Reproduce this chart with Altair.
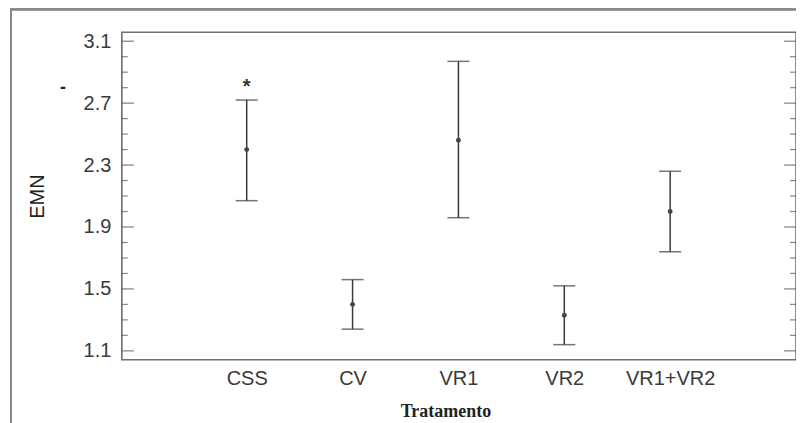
import altair as alt
import pandas as pd

categories = ["CSS", "CV", "VR1", "VR2", "VR1+VR2"]
means = [2.40, 1.40, 2.46, 1.33, 2.00]
upper = [2.72, 1.56, 2.97, 1.52, 2.26]
lower = [2.07, 1.24, 1.96, 1.14, 1.74]
sig_marks = ["*", "", "", "", ""]
sig_y = [2.83, None, None, None, None]

major_ticks = [1.1, 1.5, 1.9, 2.3, 2.7, 3.1]
minor_ticks = [1.2, 1.3, 1.4, 1.6, 1.7, 1.8, 2.0, 2.1, 2.2, 2.4, 2.5, 2.6, 2.8, 2.9, 3.0]

df = pd.DataFrame({"Tratamento": categories, "EMN": means, "hi": upper, "lo": lower,
                   "sig": sig_marks, "sig_y": sig_y})
df_major = pd.DataFrame({"v": major_ticks})
df_minor = pd.DataFrame({"v": minor_ticks})

W, H = 675, 328
FONT = "Liberation Sans"
LINE = "#3a3a3a"

yscale = alt.Scale(domain=[1.042, 3.158], nice=False, zero=False)
xscale = alt.Scale(type="point", range=[125, 549], padding=0)

xenc = alt.X("Tratamento:N", scale=xscale, sort=categories,
             axis=alt.Axis(title="Tratamento", labelAngle=0, ticks=False, domain=False,
                           labelFont=FONT, labelFontSize=20, labelColor="#3a3a3a",
                           labelPadding=9,
                           titleFont="Liberation Serif", titleFontWeight="bold",
                           titleFontSize=18, titleColor="#222",
                           titleX=324, titleY=52, titleAlign="center",
                           titleBaseline="middle"))

base = alt.Chart(df)

rules = base.mark_rule(color=LINE, strokeWidth=1.5).encode(
    x=xenc,
    y=alt.Y("lo:Q", scale=yscale,
            axis=alt.Axis(title="EMN", values=major_ticks, format=".1f", ticks=False,
                          domain=False, grid=False, labelFont=FONT, labelFontSize=20,
                          labelColor="#3a3a3a", labelPadding=11,
                          titleFont=FONT, titleFontSize=20, titleFontWeight="normal",
                          titleColor="#222", titleX=-84, titleY=164, titleAngle=270,
                          titleAlign="center", titleBaseline="middle")),
    y2="hi:Q")

caps_hi = base.mark_tick(color=LINE, size=22, thickness=1.5).encode(
    x=alt.X("Tratamento:N", scale=xscale, sort=categories), y=alt.Y("hi:Q", scale=yscale))
caps_lo = base.mark_tick(color=LINE, size=22, thickness=1.5).encode(
    x=alt.X("Tratamento:N", scale=xscale, sort=categories), y=alt.Y("lo:Q", scale=yscale))
pts = base.mark_circle(color="#444", size=24, opacity=1).encode(
    x=alt.X("Tratamento:N", scale=xscale, sort=categories), y=alt.Y("EMN:Q", scale=yscale))
stars = base.mark_text(font=FONT, fontSize=20, fontWeight="bold", color="#333",
                       baseline="middle", dy=4).encode(
    x=alt.X("Tratamento:N", scale=xscale, sort=categories),
    y=alt.Y("sig_y:Q", scale=yscale), text="sig:N")

tick_color = "#555"
maj_l = alt.Chart(df_major).mark_tick(color=tick_color, size=12, thickness=1.3).encode(
    x=alt.value(6), y=alt.Y("v:Q", scale=yscale))
maj_r = alt.Chart(df_major).mark_tick(color=tick_color, size=12, thickness=1.3).encode(
    x=alt.value(W - 6), y=alt.Y("v:Q", scale=yscale))
min_l = alt.Chart(df_minor).mark_tick(color=tick_color, size=6, thickness=1.2).encode(
    x=alt.value(3), y=alt.Y("v:Q", scale=yscale))
min_r = alt.Chart(df_minor).mark_tick(color=tick_color, size=6, thickness=1.2).encode(
    x=alt.value(W - 3), y=alt.Y("v:Q", scale=yscale))

frame_color = "#8a8a8a"
frame_left = alt.Chart(df_major).mark_rule(color=frame_color, strokeWidth=2).encode(
    x=alt.value(-111), y=alt.value(-23), y2=alt.value(400))
frame_top = alt.Chart(df_major).mark_rule(color=frame_color, strokeWidth=2).encode(
    x=alt.value(-112), x2=alt.value(700), y=alt.value(-23))
stray = alt.Chart(pd.DataFrame({"t": ["-"]})).mark_text(
    font=FONT, fontSize=18, fontWeight="bold", color="#222", baseline="middle").encode(
    x=alt.value(-59), y=alt.value(56), text="t:N")

chart = alt.layer(frame_left, frame_top, maj_l, maj_r, min_l, min_r,
                  rules, caps_hi, caps_lo, pts, stars, stray).properties(
    width=W, height=H,
    autosize=alt.AutoSizeParams(type="none"),
    padding={"left": 114, "top": 24, "right": 0, "bottom": 70},
    background="white",
).configure_view(stroke="#6f6f6f", strokeWidth=1.6)

chart.save("out.html", embed_options={"renderer": "svg", "actions": False})
